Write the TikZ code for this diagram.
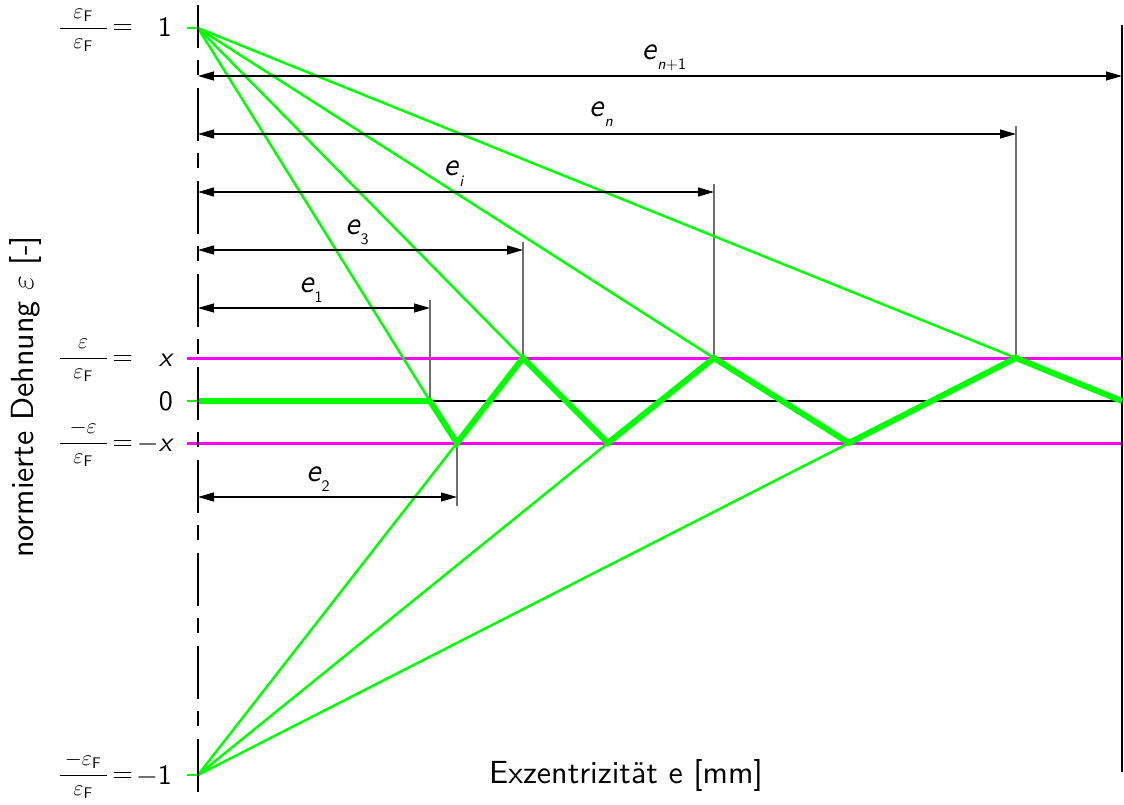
\RequirePackage{fix-cm}
\documentclass[tikz,border=0pt]{standalone}
\usepackage{amsmath}
\usepackage{fontspec}
\setsansfont{lmsans10-regular.otf}[ItalicFont=lmsans10-oblique.otf,BoldFont=lmsans10-bold.otf]
\usetikzlibrary{arrows.meta}
\definecolor{gr}{RGB}{0,255,0}
\definecolor{mg}{RGB}{255,0,255}
\definecolor{ext}{RGB}{110,110,110}
\tikzset{
  thingreen/.style={draw=gr,line width=2.5pt},
  thickgreen/.style={draw=gr,line width=6pt,line join=miter},
  limitline/.style={draw=mg,line width=3pt},
  dimline/.style={draw=black,line width=1.2pt,{Triangle[length=16pt,width=9pt]}-{Triangle[length=16pt,width=9pt]}},
  extline/.style={draw=ext,line width=1.2pt},
  dimlabel/.style={inner sep=0pt,anchor=base},
  lbl/.style={inner sep=0pt,anchor=base east,font=\sffamily\fontsize{28}{32}\selectfont},
  fraclbl/.style={inner sep=0pt,anchor=base east,font=\sffamily\fontsize{22}{26}\selectfont},
  title/.style={inner sep=0pt},
}
\newcommand{\epsF}{\varepsilon_{\text{F}}}
\newcommand{\fracbx}[1]{\makebox[47pt]{$#1$}}
\newcommand{\lowsub}[1]{\raisebox{-10pt}{\fontsize{16}{16}\selectfont #1}}
\begin{document}
\begin{tikzpicture}[x=1pt,y=-1pt,font=\sffamily\fontsize{32}{38}\selectfont]
\useasboundingbox (0,0) rectangle (1124,805);
% key points
\coordinate (T) at (198,28);
\coordinate (B) at (198,775);
\coordinate (O) at (198,401);
\coordinate (Z1) at (430,401);
\coordinate (L1) at (457,443);
\coordinate (U1) at (523,358);
\coordinate (L2) at (608,443);
\coordinate (U2) at (714,358);
\coordinate (L3) at (849,443);
\coordinate (U3) at (1016,358);
\coordinate (R) at (1122,401);
\coordinate (sT) at (187,28);
\coordinate (sB) at (187,775);
\coordinate (sO) at (187,401);
\coordinate (mxl) at (187,358);
\coordinate (mxr) at (1122,358);
\coordinate (mnl) at (187,443);
\coordinate (mnr) at (1122,443);
% limit lines
\draw[limitline] (mxl) -- (mxr);
\draw[limitline] (mnl) -- (mnr);
% zero line
\draw[line width=2.2pt] (Z1) -- (R);
% extension lines
\coordinate (x1t) at (430,300);
\coordinate (x3t) at (523,242);
\coordinate (xit) at (714,184);
\coordinate (xnt) at (1016,126);
\coordinate (x2b) at (457,506);
\coordinate (rt) at (1122,25);
\coordinate (rb) at (1122,772);
\draw[extline] (x1t) -- (Z1);
\draw[extline] (x3t) -- (U1);
\draw[extline] (xit) -- (U2);
\draw[extline] (xnt) -- (U3);
\draw[extline] (L1) -- (x2b);
\draw[line width=2pt] (rt) -- (rb);
% thin green rays
\draw[thingreen] (sT) -- (T);
\draw[thingreen] (sB) -- (B);
\draw[thingreen] (sO) -- (O);
\draw[thingreen] (T) -- (Z1);
\draw[thingreen] (T) -- (U1);
\draw[thingreen] (T) -- (U2);
\draw[thingreen] (T) -- (U3);
\draw[thingreen] (B) -- (L1);
\draw[thingreen] (B) -- (L2);
\draw[thingreen] (B) -- (L3);
% thick zigzag
\draw[thickgreen] (O) -- (Z1) -- (L1) -- (U1) -- (L2) -- (U2) -- (L3) -- (U3) -- (R);
% dimension lines
\coordinate (d1) at (198,308);
\coordinate (d3) at (198,250);
\coordinate (di) at (198,192);
\coordinate (dn) at (198,134);
\coordinate (dn1) at (198,76);
\coordinate (d2) at (198,497);
\coordinate (d1e) at (430,308);
\coordinate (d3e) at (523,250);
\coordinate (die) at (714,192);
\coordinate (dne) at (1016,134);
\coordinate (dn1e) at (1122,76);
\coordinate (d2e) at (457,497);
\draw[dimline] (d1) -- (d1e);
\draw[dimline] (d3) -- (d3e);
\draw[dimline] (di) -- (die);
\draw[dimline] (dn) -- (dne);
\draw[dimline] (dn1) -- (dn1e);
\draw[dimline] (d2) -- (d2e);
% axis
\coordinate (at) at (198,5);
\coordinate (ab) at (198,800);
\draw[line width=2.5pt,dash pattern=on 53pt off 12pt on 15pt off 13pt,dash phase=10pt] (at) -- (ab);
% dimension labels
\node[dimlabel] (ln1) at (664,60) {\textit{e}\lowsub{\textit{n}+1}};
\node[dimlabel] (ln) at (601,117) {\textit{e}\lowsub{\textit{n}}};
\node[dimlabel] (li) at (454,176) {\textit{e}\lowsub{\textit{i}}};
\node[dimlabel] (l3) at (357,234) {\textit{e}\lowsub{3}};
\node[dimlabel] (l1) at (311,292) {\textit{e}\lowsub{1}};
\node[dimlabel] (l2) at (318,481) {\textit{e}\lowsub{2}};
% left labels
\node[fraclbl] (f1) at (108,33.5) {$\dfrac{\fracbx{\epsF}}{\fracbx{\epsF}}$};
\node[lbl] (e1) at (133,35) {$=$};
\node[lbl] (v1) at (172,37) {1};
\node[fraclbl] (fx) at (108,363.5) {$\dfrac{\fracbx{\varepsilon}}{\fracbx{\epsF}}$};
\node[lbl] (ex) at (133,365) {$=$};
\node[lbl] (vx) at (174,366) {\textit{x}};
\node[lbl] (v0) at (173,410) {0};
\node[fraclbl] (fmx) at (108,448.5) {$\dfrac{\fracbx{-\varepsilon}}{\fracbx{\epsF}}$};
\node[lbl] (emx) at (133,450) {$=$};
\node[lbl] (vmx) at (174,451) {$-$\textit{x}};
\node[fraclbl] (fm1) at (108,780.5) {$\dfrac{\fracbx{-\epsF}}{\fracbx{\epsF}}$};
\node[lbl] (em1) at (133,782) {$=$};
\node[lbl] (vm1) at (172,784) {$-$1};
% axis titles
\node[title,rotate=90] (ylab) at (25,397) {normierte Dehnung $\varepsilon$ [-]};
\node[title] (xlab) at (626,775) {Exzentrizität e [mm]};
\end{tikzpicture}
\end{document}
